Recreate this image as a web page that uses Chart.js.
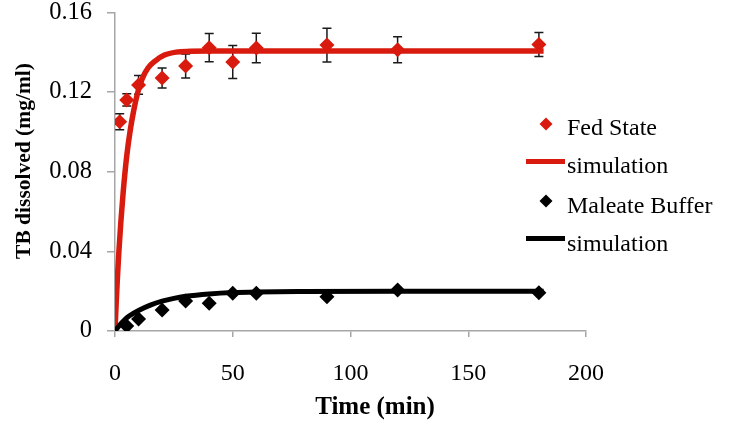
<!DOCTYPE html>
<html><head><meta charset="utf-8">
<script src="https://cdn.jsdelivr.net/npm/chart.js@4.4.0/dist/chart.umd.min.js"></script>
<style>html,body{margin:0;padding:0;background:#fff;overflow:hidden}#wrap{width:729px;height:427px}</style>
</head><body><div id="wrap"><canvas id="c" width="729" height="427"></canvas></div>
<script>
// ---- data ----
const fedTime  = [2, 5, 10, 20, 30, 40, 50, 60, 90, 120, 180];
const fedValue = [0.105, 0.116, 0.1235, 0.127, 0.133, 0.1422, 0.135, 0.142, 0.1435, 0.1412, 0.1438];
const fedError = [0.004, 0.0031, 0.0047, 0.005, 0.006, 0.0071, 0.0083, 0.0074, 0.0085, 0.0065, 0.006];

const malTime  = [5, 10, 20, 30, 40, 50, 60, 90, 120, 180];
const malValue = [0.0025, 0.006, 0.0105, 0.015, 0.0139, 0.0189, 0.0189, 0.0172, 0.0206, 0.0192];

const fedSimTime  = [0, 0.5, 1, 1.6, 2.5, 3.5, 5, 6.5, 8, 9.5, 11.5, 14, 17, 21, 26, 32, 40, 60, 100, 182];
const fedSimValue = [0, 0.014, 0.026, 0.039, 0.055, 0.070, 0.088, 0.101, 0.111, 0.119, 0.1265, 0.132, 0.1355, 0.1385, 0.140, 0.1404, 0.1406, 0.1406, 0.1406, 0.1406];

const malSimTime  = [0, 2, 4, 6, 10, 15, 20, 25, 30, 40, 50, 60, 80, 120, 182];
const malSimValue = [0, 0.003, 0.0055, 0.0075, 0.0103, 0.013, 0.015, 0.0164, 0.0174, 0.0186, 0.0193, 0.0196, 0.0198, 0.0199, 0.0199];

const xTicks = [0, 50, 100, 150, 200];
const xTickLabels = ['0', '50', '100', '150', '200'];
const yTicks = [0, 0.04, 0.08, 0.12, 0.16];
const yTickLabels = ['0', '0.04', '0.08', '0.12', '0.16'];

const legendLabels = ['Fed State', 'simulation', 'Maleate Buffer', 'simulation'];
const xTitle = 'Time (min)';
const yTitle = 'TB dissolved (mg/ml)';

// ---- styling ----
const FONT = "'Liberation Serif', 'Times New Roman', serif";
const RED = '#d81b0e';
const BLACK = '#000000';
const AXIS = '#a6a6a6';

const pts = (xs, ys) => xs.map((x, i) => ({x: x, y: ys[i]}));

const errorBars = {
  id: 'errorBars',
  beforeDatasetsDraw(chart) {
    const xs = chart.scales.x, ys = chart.scales.y, ctx = chart.ctx;
    ctx.save();
    ctx.strokeStyle = '#1a1a1a';
    ctx.lineWidth = 1.5;
    fedTime.forEach((t, i) => {
      const px = xs.getPixelForValue(t);
      const top = ys.getPixelForValue(fedValue[i] + fedError[i]);
      const bot = ys.getPixelForValue(fedValue[i] - fedError[i]);
      ctx.beginPath();
      ctx.moveTo(px, top); ctx.lineTo(px, bot);
      ctx.moveTo(px - 4.5, top); ctx.lineTo(px + 4.5, top);
      ctx.moveTo(px - 4.5, bot); ctx.lineTo(px + 4.5, bot);
      ctx.stroke();
    });
    ctx.restore();
  }
};

const annotations = {
  id: 'annotations',
  afterDraw(chart) {
    const ctx = chart.ctx;
    ctx.save();
    ctx.fillStyle = '#000';
    ctx.textAlign = 'center';
    ctx.textBaseline = 'middle';
    ctx.font = 'bold 25px ' + FONT;
    ctx.fillText(xTitle, 375, 408);
    ctx.save();
    ctx.translate(24, 161);
    ctx.rotate(-Math.PI / 2);
    ctx.font = 'bold 21.5px ' + FONT;
    ctx.fillText(yTitle, 0, 0);
    ctx.restore();

    ctx.textAlign = 'left';
    ctx.textBaseline = 'alphabetic';
    ctx.font = '24px ' + FONT;
    const items = [
      {type: 'pt', color: RED, y: 124, base: 135},
      {type: 'ln', color: RED, y: 161.5, base: 173},
      {type: 'pt', color: BLACK, y: 201, base: 213},
      {type: 'ln', color: BLACK, y: 238.5, base: 251}
    ];
    items.forEach((it, i) => {
      ctx.fillStyle = it.color;
      if (it.type === 'pt') {
        const r = 6.5, cx = 546;
        ctx.beginPath();
        ctx.moveTo(cx, it.y - r); ctx.lineTo(cx + r, it.y);
        ctx.lineTo(cx, it.y + r); ctx.lineTo(cx - r, it.y);
        ctx.closePath(); ctx.fill();
      } else {
        ctx.strokeStyle = it.color;
        ctx.lineWidth = 5;
        ctx.beginPath(); ctx.moveTo(526, it.y); ctx.lineTo(565, it.y); ctx.stroke();
      }
      ctx.fillStyle = '#000';
      ctx.fillText(legendLabels[i], 567, it.base);
    });
    ctx.restore();
  }
};

new Chart(document.getElementById('c'), {
  type: 'scatter',
  data: {
    datasets: [
      {label: legendLabels[0], data: pts(fedTime, fedValue), pointStyle: 'rectRot', pointRadius: 7.5,
       backgroundColor: RED, borderColor: RED, borderWidth: 0, showLine: false, order: 4},
      {label: legendLabels[1], data: pts(fedSimTime, fedSimValue), showLine: true, pointRadius: 0,
       borderColor: RED, borderWidth: 5.5, cubicInterpolationMode: 'monotone', order: 3},
      {label: legendLabels[2], data: pts(malTime, malValue), pointStyle: 'rectRot', pointRadius: 7.5,
       backgroundColor: BLACK, borderColor: BLACK, borderWidth: 0, showLine: false, order: 2},
      {label: legendLabels[3], data: pts(malSimTime, malSimValue), showLine: true, pointRadius: 0,
       borderColor: BLACK, borderWidth: 5, cubicInterpolationMode: 'monotone', order: 1}
    ]
  },
  options: {
    responsive: false, animation: false, devicePixelRatio: 1,
    layout: {padding: {top: 12, right: 143, left: 0, bottom: 0}},
    plugins: {legend: {display: false}, tooltip: {enabled: false}},
    scales: {
      x: {
        type: 'linear', min: 0, max: 200,
        afterBuildTicks: s => { s.ticks = xTicks.map(v => ({value: v})); },
        ticks: {callback: (v, i) => xTickLabels[i], font: {family: FONT, size: 24, lineHeight: 1}, color: '#000',
                padding: 25, maxRotation: 0, autoSkip: false},
        grid: {display: true, drawOnChartArea: false, drawTicks: true, tickLength: 6, color: AXIS, lineWidth: 1.5},
        border: {display: true, color: AXIS, width: 1.5},
        afterFit: s => { s.height = 96; }
      },
      y: {
        type: 'linear', min: 0, max: 0.16,
        afterBuildTicks: s => { s.ticks = yTicks.map(v => ({value: v})); },
        ticks: {callback: (v, i) => yTickLabels[i], font: {family: FONT, size: 24.5, lineHeight: 1}, color: '#000',
                padding: 0, autoSkip: false},
        grid: {display: true, drawOnChartArea: false, drawTicks: true, tickLength: 23, color: AXIS, lineWidth: 1.5,
               tickBorderDash: [0, 15, 8, 0]},
        border: {display: true, color: AXIS, width: 1.5},
        afterFit: s => { s.width = 115; }
      }
    }
  },
  plugins: [errorBars, annotations]
});
</script>
</body></html>
